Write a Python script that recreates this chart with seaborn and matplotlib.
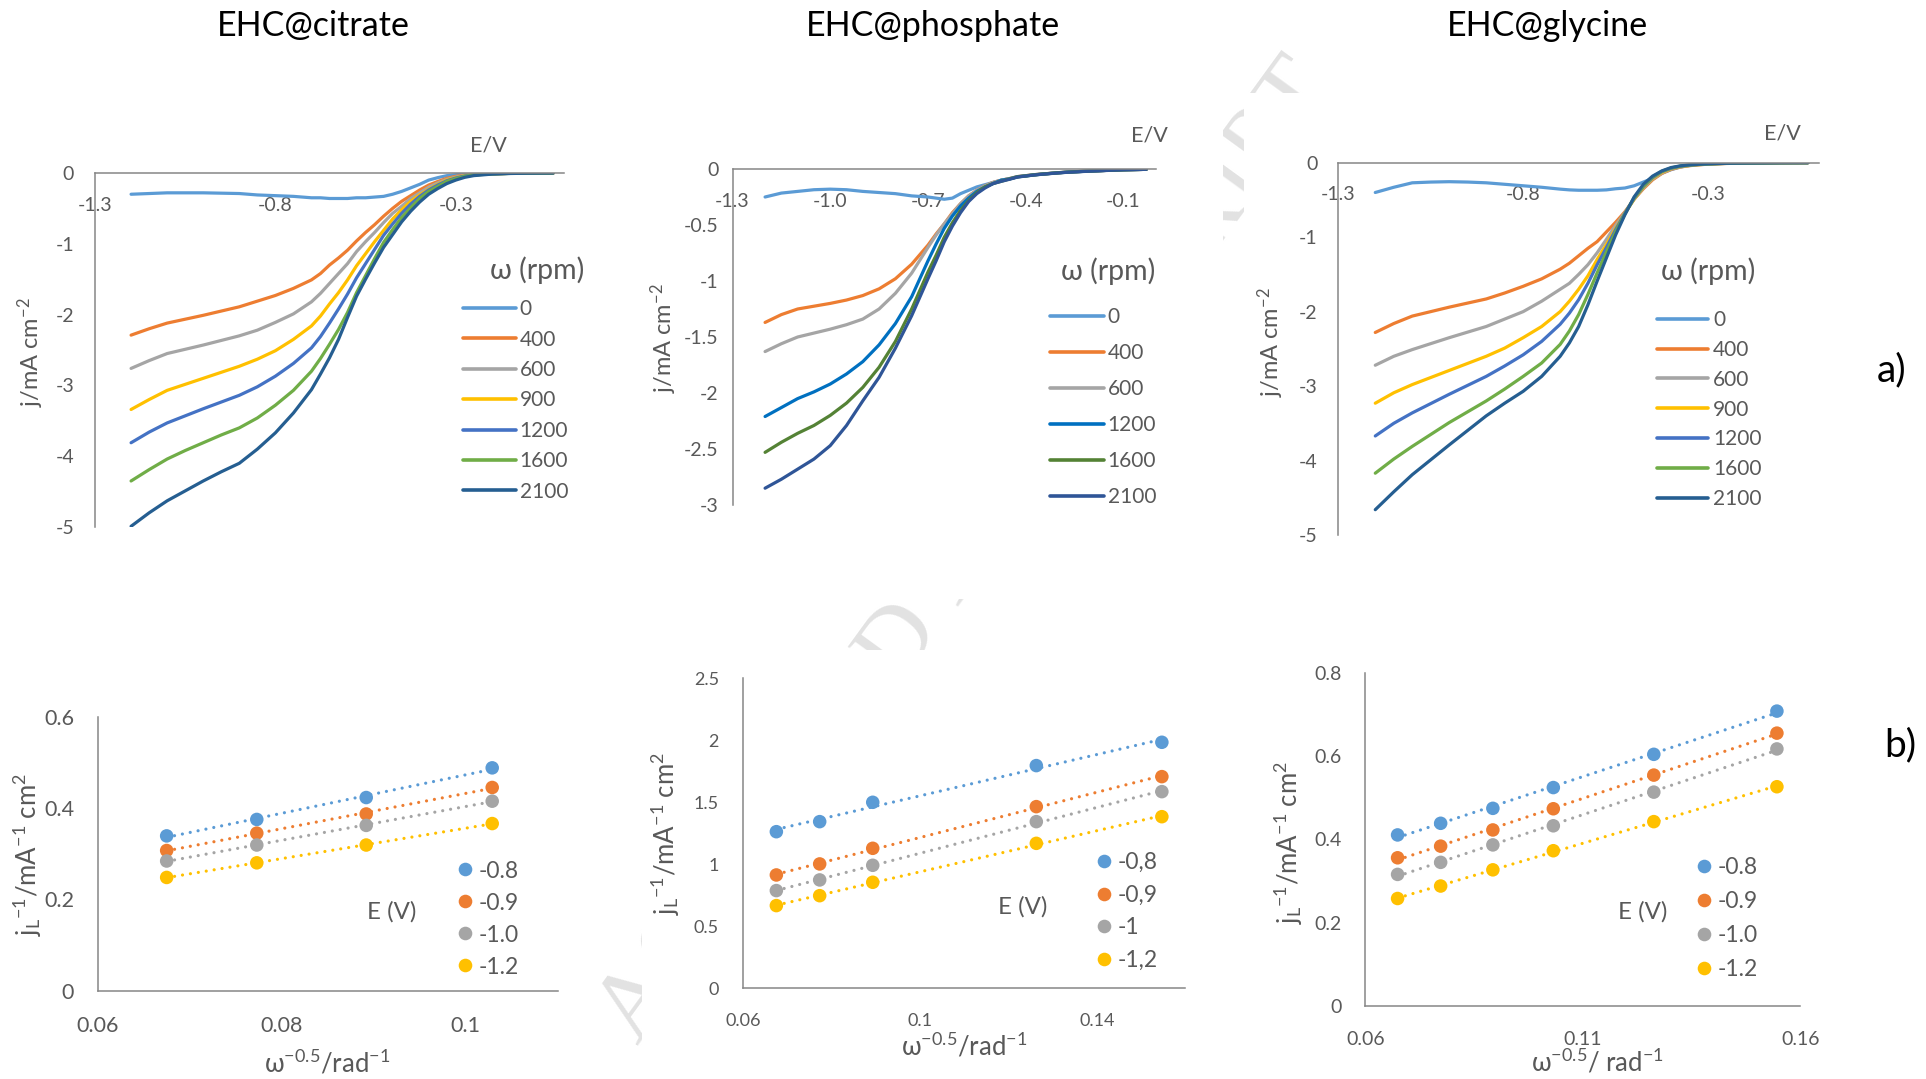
import matplotlib
matplotlib.use("Agg")
import numpy as np
import pandas as pd
import matplotlib.pyplot as plt
from matplotlib.lines import Line2D
from matplotlib.patches import Rectangle
import seaborn as sns

# ---------------------------------------------------------------- data
# Linear sweep voltammograms: potential grid (V) shared by every curve
potential_v = [-1.2, -1.15, -1.1, -1.05, -1.0, -0.95, -0.9, -0.85, -0.8, -0.75,
               -0.7, -0.675, -0.65, -0.625, -0.6, -0.575, -0.55, -0.525, -0.5,
               -0.475, -0.45, -0.425, -0.4, -0.375, -0.35, -0.325, -0.3, -0.275,
               -0.25, -0.2, -0.15, -0.1, -0.03]

# EHC@citrate current density (mA cm-2) per rotation rate (rpm)
cit_0 = [-0.30, -0.29, -0.28, -0.28, -0.28, -0.285, -0.29, -0.31, -0.32, -0.33,
         -0.35, -0.35, -0.36, -0.36, -0.36, -0.35, -0.35, -0.34, -0.33, -0.30,
         -0.26, -0.21, -0.16, -0.10, -0.066, -0.038, -0.024, -0.014, -0.01,
         -0.005, -0.002, 0.0, 0.0]
cit_400 = [-2.29, -2.20, -2.12, -2.065, -2.01, -1.95, -1.89, -1.81, -1.73, -1.63,
           -1.51, -1.42, -1.30, -1.20, -1.09, -0.96, -0.84, -0.73, -0.61, -0.50,
           -0.40, -0.32, -0.24, -0.17, -0.12, -0.075, -0.047, -0.03, -0.02,
           -0.01, -0.005, -0.002, 0.0]
cit_600 = [-2.76, -2.65, -2.55, -2.49, -2.43, -2.365, -2.30, -2.22, -2.11, -1.99,
           -1.82, -1.70, -1.56, -1.42, -1.28, -1.11, -0.97, -0.84, -0.70, -0.57,
           -0.47, -0.36, -0.28, -0.20, -0.14, -0.09, -0.057, -0.035, -0.02,
           -0.01, -0.005, -0.002, 0.0]
cit_900 = [-3.34, -3.20, -3.07, -2.985, -2.90, -2.815, -2.73, -2.63, -2.51, -2.35,
           -2.16, -2.02, -1.85, -1.69, -1.51, -1.31, -1.14, -0.97, -0.81, -0.65,
           -0.52, -0.40, -0.31, -0.23, -0.16, -0.10, -0.066, -0.038, -0.024,
           -0.012, -0.005, -0.002, 0.0]
cit_1200 = [-3.81, -3.66, -3.53, -3.43, -3.33, -3.235, -3.14, -3.02, -2.87, -2.69,
            -2.47, -2.31, -2.12, -1.92, -1.71, -1.48, -1.28, -1.08, -0.88, -0.72,
            -0.57, -0.44, -0.33, -0.24, -0.17, -0.11, -0.071, -0.042, -0.025,
            -0.012, -0.005, -0.002, 0.0]
cit_1600 = [-4.35, -4.19, -4.04, -3.92, -3.81, -3.70, -3.60, -3.46, -3.28, -3.07,
            -2.80, -2.62, -2.42, -2.21, -1.97, -1.69, -1.45, -1.21, -0.98, -0.80,
            -0.63, -0.49, -0.36, -0.26, -0.19, -0.12, -0.080, -0.047, -0.028,
            -0.013, -0.006, -0.002, 0.0]
cit_2100 = [-4.99, -4.80, -4.63, -4.49, -4.35, -4.22, -4.10, -3.90, -3.67, -3.39,
            -3.06, -2.84, -2.61, -2.35, -2.04, -1.74, -1.50, -1.27, -1.05, -0.87,
            -0.69, -0.54, -0.41, -0.30, -0.22, -0.15, -0.10, -0.061, -0.037,
            -0.016, -0.007, -0.003, 0.0]

# EHC@phosphate
pho_0 = [-0.25, -0.215, -0.20, -0.185, -0.18, -0.185, -0.20, -0.21, -0.22, -0.24,
         -0.25, -0.26, -0.27, -0.26, -0.22, -0.19, -0.16, -0.14, -0.12, -0.10,
         -0.086, -0.068, -0.06, -0.051, -0.045, -0.039, -0.033, -0.028, -0.024,
         -0.018, -0.012, -0.007, -0.003]
pho_400 = [-1.37, -1.30, -1.25, -1.225, -1.20, -1.17, -1.13, -1.07, -0.98, -0.85,
           -0.68, -0.58, -0.49, -0.39, -0.31, -0.24, -0.19, -0.15, -0.12, -0.10,
           -0.086, -0.068, -0.06, -0.051, -0.045, -0.039, -0.033, -0.028, -0.024,
           -0.018, -0.012, -0.007, -0.003]
pho_600 = [-1.63, -1.56, -1.50, -1.465, -1.43, -1.39, -1.34, -1.25, -1.11, -0.93,
           -0.70, -0.59, -0.49, -0.40, -0.31, -0.24, -0.19, -0.15, -0.12, -0.10,
           -0.086, -0.068, -0.06, -0.051, -0.045, -0.039, -0.033, -0.028, -0.024,
           -0.018, -0.012, -0.007, -0.003]
pho_1200 = [-2.21, -2.13, -2.05, -1.99, -1.92, -1.83, -1.72, -1.57, -1.38, -1.14,
            -0.82, -0.67, -0.53, -0.42, -0.33, -0.26, -0.20, -0.16, -0.13, -0.10,
            -0.089, -0.07, -0.062, -0.053, -0.046, -0.04, -0.034, -0.029, -0.025,
            -0.018, -0.012, -0.007, -0.003]
pho_1600 = [-2.53, -2.44, -2.36, -2.29, -2.20, -2.09, -1.95, -1.77, -1.54, -1.25,
            -0.92, -0.77, -0.61, -0.48, -0.37, -0.28, -0.21, -0.16, -0.13, -0.11,
            -0.089, -0.07, -0.062, -0.053, -0.046, -0.04, -0.034, -0.029, -0.025,
            -0.018, -0.012, -0.007, -0.003]
pho_2100 = [-2.85, -2.77, -2.68, -2.59, -2.47, -2.29, -2.07, -1.86, -1.60, -1.31,
            -0.98, -0.82, -0.65, -0.51, -0.39, -0.29, -0.22, -0.17, -0.13, -0.11,
            -0.092, -0.072, -0.063, -0.054, -0.047, -0.041, -0.035, -0.03, -0.026,
            -0.019, -0.013, -0.007, -0.003]

# EHC@glycine
gly_0 = [-0.40, -0.33, -0.27, -0.26, -0.255, -0.26, -0.27, -0.29, -0.31, -0.33,
         -0.355, -0.365, -0.37, -0.37, -0.37, -0.365, -0.35, -0.34, -0.31, -0.26,
         -0.21, -0.14, -0.094, -0.058, -0.036, -0.022, -0.016, -0.011, -0.009,
         -0.005, -0.002, 0.0, 0.0]
gly_400 = [-2.28, -2.16, -2.06, -2.0, -1.94, -1.885, -1.83, -1.75, -1.66, -1.56,
           -1.43, -1.35, -1.25, -1.15, -1.06, -0.93, -0.80, -0.66, -0.49, -0.35,
           -0.23, -0.145, -0.09, -0.058, -0.04, -0.028, -0.02, -0.014, -0.01,
           -0.006, -0.003, -0.001, 0.0]
gly_600 = [-2.72, -2.60, -2.51, -2.43, -2.35, -2.275, -2.20, -2.10, -2.00, -1.86,
           -1.70, -1.62, -1.50, -1.37, -1.21, -1.03, -0.84, -0.67, -0.49, -0.34,
           -0.22, -0.14, -0.085, -0.055, -0.038, -0.027, -0.019, -0.014, -0.01,
           -0.006, -0.003, -0.001, 0.0]
gly_900 = [-3.23, -3.09, -2.98, -2.885, -2.79, -2.695, -2.60, -2.49, -2.35, -2.20,
           -2.00, -1.86, -1.70, -1.52, -1.30, -1.10, -0.88, -0.68, -0.49, -0.33,
           -0.21, -0.13, -0.08, -0.052, -0.036, -0.026, -0.018, -0.013, -0.009,
           -0.005, -0.003, -0.001, 0.0]
gly_1200 = [-3.67, -3.50, -3.36, -3.235, -3.11, -2.99, -2.87, -2.73, -2.58, -2.40,
            -2.17, -2.02, -1.84, -1.62, -1.37, -1.14, -0.90, -0.68, -0.48, -0.32,
            -0.20, -0.12, -0.075, -0.048, -0.033, -0.024, -0.017, -0.012, -0.009,
            -0.005, -0.003, -0.001, 0.0]
gly_1600 = [-4.17, -3.98, -3.81, -3.65, -3.49, -3.345, -3.20, -3.04, -2.87, -2.69,
            -2.44, -2.26, -2.04, -1.77, -1.48, -1.20, -0.93, -0.69, -0.47, -0.31,
            -0.19, -0.115, -0.07, -0.045, -0.031, -0.022, -0.016, -0.012, -0.008,
            -0.005, -0.003, -0.001, 0.0]
gly_2100 = [-4.66, -4.42, -4.19, -3.99, -3.79, -3.595, -3.40, -3.23, -3.07, -2.87,
            -2.60, -2.42, -2.20, -1.91, -1.59, -1.28, -0.97, -0.70, -0.46, -0.29,
            -0.18, -0.11, -0.065, -0.042, -0.029, -0.021, -0.015, -0.011, -0.008,
            -0.005, -0.003, -0.001, 0.0]

rpm_cit = ["0", "400", "600", "900", "1200", "1600", "2100"]
rpm_pho = ["0", "400", "600", "1200", "1600", "2100"]
rpm_gly = ["0", "400", "600", "900", "1200", "1600", "2100"]

# Koutecky-Levich data: omega^-0.5 (rad^-1) and jL^-1 (mA^-1 cm2)
kl_cit_x = [0.0675, 0.0773, 0.0892, 0.1029]
kl_cit_08 = [0.339, 0.375, 0.423, 0.488]
kl_cit_09 = [0.307, 0.345, 0.387, 0.445]
kl_cit_10 = [0.284, 0.319, 0.362, 0.415]
kl_cit_12 = [0.248, 0.280, 0.319, 0.366]

kl_pho_x = [0.0675, 0.0773, 0.0893, 0.1263, 0.1547]
kl_pho_08 = [1.263, 1.344, 1.500, 1.796, 1.984]
kl_pho_09 = [0.914, 1.003, 1.129, 1.465, 1.707]
kl_pho_10 = [0.788, 0.874, 0.992, 1.344, 1.586]
kl_pho_12 = [0.667, 0.747, 0.855, 1.169, 1.384]

kl_gly_x = [0.0674, 0.0773, 0.0893, 0.1032, 0.1263, 0.1546]
kl_gly_08 = [0.411, 0.439, 0.475, 0.525, 0.605, 0.709]
kl_gly_09 = [0.356, 0.384, 0.423, 0.474, 0.555, 0.656]
kl_gly_10 = [0.316, 0.345, 0.387, 0.433, 0.514, 0.618]
kl_gly_12 = [0.258, 0.288, 0.327, 0.373, 0.443, 0.527]

e_labels_dot = ["-0.8", "-0.9", "-1.0", "-1.2"]
e_labels_comma = ["-0,8", "-0,9", "-1", "-1,2"]

# tick labels
lsv_xt_cit = ["-1.3", "-0.8", "-0.3"]
lsv_xt_pho = ["-1.3", "-1.0", "-0.7", "-0.4", "-0.1"]
lsv_yt_5 = ["0", "-1", "-2", "-3", "-4", "-5"]
lsv_yt_3 = ["0", "-0.5", "-1", "-1.5", "-2", "-2.5", "-3"]
kl_xt_cit = ["0.06", "0.08", "0.1"]
kl_xt_pho = ["0.06", "0.1", "0.14"]
kl_xt_gly = ["0.06", "0.11", "0.16"]
kl_yt_cit = ["0", "0.2", "0.4", "0.6"]
kl_yt_pho = ["0", "0.5", "1", "1.5", "2", "2.5"]
kl_yt_gly = ["0", "0.2", "0.4", "0.6", "0.8"]

# ---------------------------------------------------------------- style
W, H = 1926, 1079
sns.set_style("white")
plt.rcParams["font.family"] = ["Lato", "DejaVu Sans"]
plt.rcParams["mathtext.fontset"] = "custom"
plt.rcParams["mathtext.rm"] = "Lato"
plt.rcParams["mathtext.it"] = "Lato:italic"
plt.rcParams["mathtext.default"] = "regular"
plt.rcParams["axes.unicode_minus"] = False

AXIS = "#868686"
TXT = "#595959"

PAL_A = {"0": "#5B9BD5", "400": "#ED7D31", "600": "#A5A5A5", "900": "#FFC000",
         "1200": "#4472C4", "1600": "#70AD47", "2100": "#255E91"}
PAL_B = {"0": "#5B9BD5", "400": "#ED7D31", "600": "#A5A5A5",
         "1200": "#0070C0", "1600": "#548235", "2100": "#2F5597"}
E_COLORS = ["#5B9BD5", "#ED7D31", "#A5A5A5", "#FFC000"]

fig = plt.figure(figsize=(W / 100, H / 100), dpi=100)
fig.patch.set_facecolor("white")


def place(l, t, r, b):
    ax = fig.add_axes([l / W, 1 - b / H, (r - l) / W, (b - t) / H])
    ax.set_facecolor("none")
    return ax


def ftext(px, py, s, **kw):
    kw.setdefault("ha", "center")
    kw.setdefault("va", "center")
    fig.text(px / W, 1 - py / H, s, **kw)


# faint diagonal watermark, hidden behind the white chart areas
ftext(967, 552, "ACCEPTED MANUSCRIPT", rotation=54, rotation_mode="anchor",
      fontsize=72, family=["Liberation Serif", "DejaVu Serif"],
      color="#e2e2e2", zorder=-3)
for (l, t, r, b) in [(0, 60, 600, 600), (630, 95, 1223, 599), (1244, 93, W, 600),
                     (0, 640, 600, H), (642, 650, 1212, H), (1240, 640, W, H)]:
    fig.patches.append(Rectangle((l / W, 1 - b / H), (r - l) / W, (b - t) / H,
                                 transform=fig.transFigure, facecolor="white",
                                 edgecolor="none", zorder=-2))


def lsv_panel(box, curves, levels, pal, ymin, xticks, xlabels, yticks, ylabels,
              tick_fs, ypad, ylab_xy, leg):
    ax = place(*box)
    frames = []
    for lvl, vals in zip(levels, curves):
        frames.append(pd.DataFrame({"E": potential_v, "j": vals, "rpm": lvl}))
    df = pd.concat(frames, ignore_index=True)
    sns.lineplot(data=df, x="E", y="j", hue="rpm", hue_order=levels,
                 palette=pal, sort=False, estimator=None, lw=2.3,
                 legend=False, ax=ax)
    for ln in ax.lines:
        ln.set_solid_joinstyle("round")
        ln.set_solid_capstyle("round")
    ax.set_xlim(-1.3, 0.0)
    ax.set_ylim(ymin, 0)
    ax.spines["top"].set_visible(False)
    ax.spines["right"].set_visible(False)
    ax.spines["bottom"].set_position(("data", 0))
    for s in ("left", "bottom"):
        ax.spines[s].set_color(AXIS)
        ax.spines[s].set_linewidth(1.1)
    ax.set_xticks(xticks, xlabels)
    ax.set_yticks(yticks, ylabels)
    ax.tick_params(axis="x", direction="out", length=5, width=1.1, color=AXIS,
                   labelcolor=TXT, labelsize=tick_fs, pad=12)
    ax.tick_params(axis="y", direction="out", length=5, width=1.1, color=AXIS,
                   labelcolor=TXT, labelsize=tick_fs, pad=ypad)
    ax.set_xlabel("")
    ax.set_ylabel(r"j/mA cm$^{-2}$", fontsize=17, color=TXT)
    ax.yaxis.set_label_coords(ylab_xy[0] / W, 1 - ylab_xy[1] / H,
                              transform=fig.transFigure)
    ax.yaxis.label.set_va("center")
    x_left, y_mid, hl, hp, ls = leg
    handles = [Line2D([], [], color=pal[k], lw=2.6) for k in levels]
    ax.legend(handles, levels, loc="center left",
              bbox_to_anchor=(x_left / W, 1 - y_mid / H),
              bbox_transform=fig.transFigure, frameon=False, borderpad=0,
              borderaxespad=0, handlelength=hl, handletextpad=hp,
              labelspacing=ls, fontsize=15, labelcolor=TXT)
    return ax


lsv_panel((95, 173, 564, 527),
          [cit_0, cit_400, cit_600, cit_900, cit_1200, cit_1600, cit_2100],
          rpm_cit, PAL_A, -5, [-1.3, -0.8, -0.3], lsv_xt_cit,
          [0, -1, -2, -3, -4, -5], lsv_yt_5, 14, 10, (31, 352),
          (463, 400.5, 2.55, 0.17, 0.5))
lsv_panel((732.5, 169, 1156, 505),
          [pho_0, pho_400, pho_600, pho_1200, pho_1600, pho_2100],
          rpm_pho, PAL_B, -3, [-1.3, -1.0, -0.7, -0.4, -0.1], lsv_xt_pho,
          [0, -0.5, -1, -1.5, -2, -2.5, -3], lsv_yt_3, 14, 5, (664, 338),
          (1050, 407, 2.6, 0.17, 0.77))
lsv_panel((1338.3, 162.7, 1819, 535),
          [gly_0, gly_400, gly_600, gly_900, gly_1200, gly_1600, gly_2100],
          rpm_gly, PAL_A, -5, [-1.3, -0.8, -0.3], lsv_xt_cit,
          [0, -1, -2, -3, -4, -5], lsv_yt_5, 14, 10, (1271, 342),
          (1656.7, 409.5, 2.48, 0.22, 0.47))

for (px, py) in [(488, 145), (1149, 135), (1782, 133)]:
    ftext(px, py, "E/V", fontsize=15.5, color=TXT)
for (px, py) in [(537, 270), (1108, 271), (1708, 271)]:
    ftext(px, py, "\u03c9 (rpm)", fontsize=20.5, color=TXT)


def kl_panel(box, xs, series, labels, xlim, xticks, xlabels, ylim, yticks,
             ylabels, tick_fs, xpad, ypad, xlab, xlab_xy, ylab_xy, leg, ev_xy):
    ax = place(*box)
    frames = [pd.DataFrame({"x": xs, "y": ys, "E": lab})
              for lab, ys in zip(labels, series)]
    df = pd.concat(frames, ignore_index=True)
    pal = dict(zip(labels, E_COLORS))
    for lab in labels:
        sub = df[df["E"] == lab]
        sns.regplot(data=sub, x="x", y="y", ci=None, scatter=False,
                    truncate=True, color=pal[lab], ax=ax,
                    line_kws=dict(lw=2.3, linestyle=(0, (0.01, 2.5)),
                                  dash_capstyle="round"))
    sns.scatterplot(data=df, x="x", y="y", hue="E", hue_order=labels,
                    palette=pal, s=95, linewidth=0, legend=False, zorder=3,
                    ax=ax)
    ax.set_xlim(*xlim)
    ax.set_ylim(*ylim)
    ax.spines["top"].set_visible(False)
    ax.spines["right"].set_visible(False)
    for s in ("left", "bottom"):
        ax.spines[s].set_color(AXIS)
        ax.spines[s].set_linewidth(1.1)
    ax.set_xticks(xticks, xlabels)
    ax.set_yticks(yticks, ylabels)
    ax.tick_params(axis="x", direction="out", length=5.5, width=1.1,
                   color=AXIS, labelcolor=TXT, labelsize=tick_fs, pad=xpad)
    ax.tick_params(axis="y", direction="out", length=5.5, width=1.1,
                   color=AXIS, labelcolor=TXT, labelsize=tick_fs, pad=ypad)
    ax.set_xlabel(xlab, fontsize=18.5, color=TXT)
    ax.xaxis.set_label_coords(xlab_xy[0] / W, 1 - xlab_xy[1] / H,
                              transform=fig.transFigure)
    ax.xaxis.label.set_va("center")
    ax.set_ylabel(r"j$_L$$^{-1}$/mA$^{-1}$ cm$^2$", fontsize=18.5, color=TXT)
    ax.yaxis.set_label_coords(ylab_xy[0] / W, 1 - ylab_xy[1] / H,
                              transform=fig.transFigure)
    ax.yaxis.label.set_va("center")
    x_left, y_mid, hp, ls = leg
    handles = [Line2D([], [], marker="o", ls="none", markersize=9.8,
                      markeredgewidth=0, color=c) for c in E_COLORS]
    ax.legend(handles, labels, loc="center left",
              bbox_to_anchor=(x_left / W, 1 - y_mid / H),
              bbox_transform=fig.transFigure, frameon=False, borderpad=0,
              borderaxespad=0, handlelength=0.8, handletextpad=hp,
              labelspacing=ls, fontsize=16.5, labelcolor=TXT, numpoints=1)
    ftext(ev_xy[0], ev_xy[1], "E (V)", fontsize=17.3, color=TXT)
    return ax


kl_panel((97.7, 716.7, 557.5, 990.7), kl_cit_x,
         [kl_cit_08, kl_cit_09, kl_cit_10, kl_cit_12], e_labels_dot,
         (0.06, 0.11), [0.06, 0.08, 0.1], kl_xt_cit,
         (0, 0.6), [0, 0.2, 0.4, 0.6], kl_yt_cit, 15.5, 12.5, 11.5,
         "\u03c9$^{-0.5}$/rad$^{-1}$", (327, 1063), (28, 855),
         (455.4, 919, 0.21, 0.48), (391.5, 912))
kl_panel((743.2, 678.3, 1185.3, 988.3), kl_pho_x,
         [kl_pho_08, kl_pho_09, kl_pho_10, kl_pho_12], e_labels_comma,
         (0.06, 0.16), [0.06, 0.1, 0.14], kl_xt_pho,
         (0, 2.5), [0, 0.5, 1, 1.5, 2, 2.5], kl_yt_pho, 13, 12, 12,
         "\u03c9$^{-0.5}$/rad$^{-1}$", (964, 1046), (666, 834),
         (1094.8, 911.5, 0.19, 0.51), (1023, 907))
kl_panel((1365.4, 673.3, 1800.4, 1005.7), kl_gly_x,
         [kl_gly_08, kl_gly_09, kl_gly_10, kl_gly_12], e_labels_dot,
         (0.06, 0.16), [0.06, 0.11, 0.16], kl_xt_gly,
         (0, 0.8), [0, 0.2, 0.4, 0.6, 0.8], kl_yt_gly, 14, 12.5, 11.5,
         "\u03c9$^{-0.5}$/ rad$^{-1}$", (1597, 1062), (1289, 843),
         (1694.8, 918.5, 0.21, 0.57), (1643, 912))

# panel titles and row tags
ftext(313, 26, "EHC@citrate", fontsize=24.5, color="black")
ftext(933, 26, "EHC@phosphate", fontsize=24.5, color="black")
ftext(1547, 26, "EHC@glycine", fontsize=24.5, color="black")
ftext(1892, 370, "a)", fontsize=28, color="black")
ftext(1900, 745, "b)", fontsize=28, color="black")

fig.savefig("out.png", dpi=100)
